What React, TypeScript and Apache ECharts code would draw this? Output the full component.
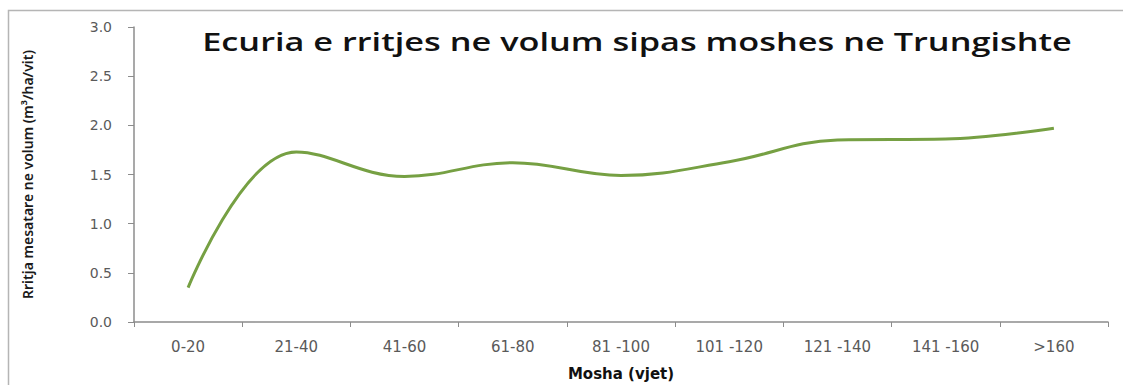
import React, { useEffect, useRef } from "react";
import * as echarts from "echarts";

const categories = ["0-20", "21-40", "41-60", "61-80", "81 -100", "101 -120", "121 -140", "141 -160", ">160"];
const growth = [0.35, 1.73, 1.48, 1.62, 1.49, 1.63, 1.85, 1.86, 1.97];
const titleText = "Ecuria e rritjes ne volum sipas moshes ne Trungishte";
const yName = "Rritja mesatare ne volum (m³/ha/vit)";
const xName = "Mosha (vjet)";

export default function App() {
  const ref = useRef<HTMLDivElement>(null);
  useEffect(() => {
    if (!ref.current) return;
    const chart = echarts.init(ref.current, null, { renderer: "svg" });
    chart.setOption({
      animation: false,
      backgroundColor: "#ffffff",
      graphic: [
        {
          type: "rect",
          shape: { x: 8.5, y: 10.5, width: 1130, height: 400 },
          style: { fill: "none", stroke: "#b5b5b5", lineWidth: 1.5 },
          silent: true,
        },
        {
          type: "text",
          x: 637,
          y: 41,
          scaleX: 1.32,
          style: {
            text: titleText,
            fontFamily: "Open Sans",
            fontSize: 26,
            fontWeight: 600,
            fill: "#111",
            align: "center",
            verticalAlign: "middle",
          },
          silent: true,
        },
      ],
      grid: { left: 134, right: 15, top: 27, bottom: 63, containLabel: false, outerBoundsMode: "none" },
      xAxis: {
        type: "category",
        data: categories,
        boundaryGap: true,
        name: xName,
        nameLocation: "middle",
        nameGap: 44,
        nameTextStyle: { fontFamily: "DejaVu Sans", fontSize: 15, fontWeight: "bold", color: "#111" },
        axisLine: { lineStyle: { color: "#8c8c8c", width: 1.5 } },
        axisTick: { show: true, alignWithLabel: false, length: 5, lineStyle: { color: "#8c8c8c" } },
        axisLabel: { margin: 17, fontFamily: "DejaVu Sans", fontSize: 15, color: "#5a5a5a", interval: 0 },
        splitLine: { show: false },
      },
      yAxis: {
        type: "value",
        min: 0,
        max: 3,
        interval: 0.5,
        name: yName,
        nameLocation: "middle",
        nameRotate: 90,
        nameGap: 100,
        nameTextStyle: { fontFamily: "Noto Sans", fontSize: 14, fontWeight: 600, color: "#1a1a1a" },
        axisLine: { show: true, lineStyle: { color: "#8c8c8c", width: 1.5 } },
        axisTick: { show: true, length: 6, lineStyle: { color: "#8c8c8c" } },
        axisLabel: {
          margin: 22,
          fontFamily: "DejaVu Sans",
          fontSize: 14,
          color: "#5a5a5a",
          formatter: (v: number) => v.toFixed(1),
        },
        splitLine: { show: false },
      },
      series: [
        {
          type: "line",
          data: growth,
          smooth: 0.4,
          showSymbol: false,
          symbol: "none",
          lineStyle: { color: "#76a043", width: 3 },
        },
      ],
    });
    return () => chart.dispose();
  }, []);
  return <div ref={ref} style={{ position: "fixed", left: 0, top: 0, width: 1123, height: 385 }} />;
}
